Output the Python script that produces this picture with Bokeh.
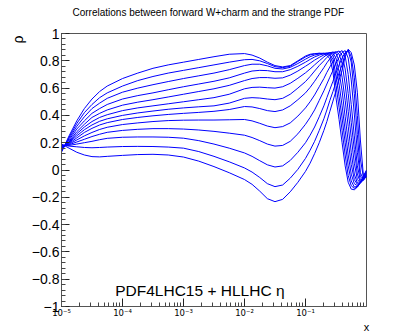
from bokeh.plotting import figure
from bokeh.models import FixedTicker, Label, Range1d, Title
from bokeh.embed import file_html
from bokeh.resources import INLINE

# x values (Bjorken x, log scale)
x_values = [1e-5, 1.33e-5, 1.78e-5, 2.37e-5, 3.16e-5, 4.22e-5, 5.62e-5, 1e-4, 1.78e-4, 3.16e-4,
            5.62e-4, 1e-3, 1.78e-3, 3.16e-3, 5.62e-3, 1e-2, 1.33e-2, 1.78e-2, 2.37e-2, 3.16e-2,
            4.22e-2, 5.62e-2, 7.5e-2, 0.1, 0.119, 0.141, 0.168, 0.2, 0.224, 0.251,
            0.282, 0.316, 0.355, 0.398, 0.447, 0.501, 0.562, 0.631, 0.708, 0.794,
            0.891, 1.0]

# correlation coefficients, one curve per eta bin
rho_bin1 = [0.13, 0.25, 0.36, 0.45, 0.52, 0.575, 0.615, 0.67, 0.71, 0.745,
            0.77, 0.79, 0.81, 0.83, 0.848, 0.853, 0.842, 0.82, 0.79, 0.765,
            0.755, 0.765, 0.8, 0.835, 0.848, 0.853, 0.855, 0.85, 0.84, 0.815,
            0.72, 0.53, 0.37, 0.2, 0.03, -0.09, -0.14, -0.145, -0.125, -0.09,
            -0.045, 0.0]
rho_bin2 = [0.135, 0.24, 0.34, 0.42, 0.48, 0.53, 0.565, 0.615, 0.655, 0.685,
            0.71, 0.73, 0.75, 0.77, 0.79, 0.808, 0.81, 0.8, 0.78, 0.757,
            0.75, 0.76, 0.795, 0.828, 0.843, 0.85, 0.855, 0.855, 0.85, 0.838,
            0.78, 0.62, 0.46, 0.29, 0.11, -0.04, -0.115, -0.135, -0.125, -0.09,
            -0.045, -0.005]
rho_bin3 = [0.14, 0.23, 0.32, 0.39, 0.45, 0.49, 0.525, 0.57, 0.60, 0.625,
            0.648, 0.67, 0.69, 0.71, 0.735, 0.765, 0.775, 0.775, 0.763, 0.745,
            0.74, 0.752, 0.78, 0.812, 0.83, 0.842, 0.85, 0.855, 0.855, 0.848,
            0.81, 0.70, 0.54, 0.38, 0.2, 0.03, -0.08, -0.125, -0.12, -0.095,
            -0.05, -0.01]
rho_bin4 = [0.145, 0.22, 0.30, 0.36, 0.415, 0.45, 0.48, 0.52, 0.545, 0.565,
            0.588, 0.61, 0.63, 0.65, 0.675, 0.71, 0.725, 0.73, 0.728, 0.72,
            0.72, 0.735, 0.76, 0.79, 0.81, 0.828, 0.842, 0.852, 0.857, 0.858,
            0.84, 0.77, 0.63, 0.47, 0.29, 0.11, -0.03, -0.1, -0.115, -0.095,
            -0.055, -0.015]
rho_bin5 = [0.15, 0.21, 0.28, 0.335, 0.385, 0.415, 0.44, 0.475, 0.497, 0.515,
            0.535, 0.555, 0.575, 0.595, 0.62, 0.655, 0.67, 0.677, 0.677, 0.672,
            0.675, 0.695, 0.725, 0.76, 0.782, 0.805, 0.825, 0.843, 0.853, 0.86,
            0.857, 0.82, 0.72, 0.58, 0.39, 0.21, 0.04, -0.07, -0.105, -0.095,
            -0.06, -0.02]
rho_bin6 = [0.155, 0.205, 0.265, 0.315, 0.355, 0.385, 0.405, 0.435, 0.455, 0.47,
            0.485, 0.50, 0.515, 0.53, 0.555, 0.595, 0.605, 0.607, 0.603, 0.60,
            0.61, 0.635, 0.672, 0.712, 0.74, 0.77, 0.80, 0.828, 0.845, 0.858,
            0.865, 0.855, 0.80, 0.68, 0.51, 0.32, 0.13, -0.03, -0.095, -0.095,
            -0.065, -0.025]
rho_bin7 = [0.16, 0.2, 0.25, 0.295, 0.33, 0.357, 0.375, 0.40, 0.418, 0.432,
            0.445, 0.455, 0.463, 0.47, 0.49, 0.525, 0.53, 0.527, 0.52, 0.515,
            0.525, 0.555, 0.6, 0.648, 0.685, 0.725, 0.765, 0.80, 0.825, 0.845,
            0.86, 0.867, 0.85, 0.78, 0.63, 0.43, 0.24, 0.05, -0.07, -0.095,
            -0.07, -0.03]
rho_bin8 = [0.165, 0.195, 0.235, 0.275, 0.305, 0.33, 0.347, 0.37, 0.385, 0.397,
            0.407, 0.415, 0.422, 0.43, 0.443, 0.465, 0.462, 0.45, 0.435, 0.428,
            0.44, 0.47, 0.515, 0.565, 0.605, 0.65, 0.70, 0.75, 0.785, 0.815,
            0.842, 0.862, 0.872, 0.84, 0.74, 0.56, 0.35, 0.15, -0.03, -0.09,
            -0.075, -0.035]
rho_bin9 = [0.17, 0.19, 0.22, 0.25, 0.275, 0.297, 0.313, 0.333, 0.345, 0.355,
            0.362, 0.365, 0.366, 0.366, 0.368, 0.37, 0.36, 0.342, 0.322, 0.31,
            0.318, 0.345, 0.395, 0.455, 0.5, 0.55, 0.61, 0.67, 0.715, 0.755,
            0.795, 0.83, 0.86, 0.875, 0.835, 0.70, 0.48, 0.25, 0.03, -0.075,
            -0.075, -0.04]
rho_bin10 = [0.175, 0.185, 0.205, 0.225, 0.245, 0.262, 0.276, 0.29, 0.298, 0.303,
             0.303, 0.3, 0.293, 0.283, 0.27, 0.255, 0.238, 0.215, 0.19, 0.175,
             0.18, 0.21, 0.265, 0.335, 0.385, 0.44, 0.51, 0.58, 0.63, 0.68,
             0.73, 0.78, 0.825, 0.86, 0.875, 0.82, 0.66, 0.41, 0.13, -0.05,
             -0.07, -0.045]
rho_bin11 = [0.18, 0.18, 0.19, 0.2, 0.21, 0.222, 0.232, 0.24, 0.242, 0.242,
             0.24, 0.233, 0.215, 0.19, 0.16, 0.125, 0.1, 0.068, 0.038, 0.022,
             0.03, 0.07, 0.13, 0.2, 0.255, 0.315, 0.39, 0.47, 0.53, 0.59,
             0.65, 0.71, 0.77, 0.82, 0.86, 0.875, 0.79, 0.56, 0.26, -0.02,
             -0.07, -0.05]
rho_bin12 = [0.185, 0.175, 0.17, 0.165, 0.163, 0.165, 0.168, 0.172, 0.173, 0.172,
             0.168, 0.16, 0.135, 0.1, 0.06, 0.015, -0.015, -0.055, -0.1, -0.122,
             -0.11, -0.06, 0.005, 0.085, 0.145, 0.21, 0.29, 0.375, 0.44, 0.51,
             0.575, 0.645, 0.71, 0.77, 0.85, 0.88, 0.83, 0.68, 0.40, 0.08,
             -0.055, -0.05]
rho_bin13 = [0.19, 0.16, 0.13, 0.11, 0.098, 0.096, 0.1, 0.107, 0.113, 0.115,
             0.11, 0.095, 0.065, 0.025, -0.02, -0.07, -0.105, -0.155, -0.21, -0.232,
             -0.215, -0.16, -0.09, -0.01, 0.05, 0.12, 0.2, 0.29, 0.355, 0.43,
             0.505, 0.58, 0.66, 0.73, 0.83, 0.885, 0.86, 0.77, 0.57, 0.22,
             -0.045, -0.05]

curves = [rho_bin1, rho_bin2, rho_bin3, rho_bin4, rho_bin5, rho_bin6, rho_bin7,
          rho_bin8, rho_bin9, rho_bin10, rho_bin11, rho_bin12, rho_bin13]

y_ticks = [-1, -0.8, -0.6, -0.4, -0.2, 0, 0.2, 0.4, 0.6, 0.8, 1]
y_tick_labels = ["\u22121", "\u22120.8", "\u22120.6", "\u22120.4", "\u22120.2", "0",
                 "0.2", "0.4", "0.6", "0.8", "1"]
x_decades = [1e-5, 1e-4, 1e-3, 1e-2, 1e-1]
x_tick_labels = ["10\u207b\u2075", "10\u207b\u2074", "10\u207b\u00b3", "10\u207b\u00b2", "10\u207b\u00b9"]

title_text = "Correlations between forward W+charm and the strange PDF"
note_text = "PDF4LHC15 + HLLHC \u03b7"
x_title = "x"
y_title = "\u03c1"

FONT = "Liberation Sans"
AXIS_COLOR = "#555555"

p = figure(width=407, height=333, x_axis_type="log",
           x_range=Range1d(1e-5, 1.0), y_range=Range1d(-1.0, 1.0),
           output_backend="svg", toolbar_location=None,
           min_border_left=61, min_border_right=41, min_border_top=33, min_border_bottom=27)
p.frame_width = 305
p.frame_height = 273
p.xgrid.visible = False
p.ygrid.visible = False
p.outline_line_color = AXIS_COLOR
p.outline_line_width = 1
p.background_fill_color = "white"
p.border_fill_color = "white"

# title (a second, empty line lifts the visible line towards the top edge)
p.title.text = title_text + "\n "
p.title.align = "left"
p.title.offset = 11
p.title.standoff = 5
p.title.vertical_align = "top"
p.title.text_font = FONT
p.title.text_font_size = "10px"
p.title.text_font_style = "normal"
p.title.text_color = "black"

for rho in curves:
    p.line(x_values, rho, line_color="#0000ff", line_width=1)

# y axis
y_minor = [round(-1 + 0.04 * i, 2) for i in range(51)]
p.yaxis.ticker = FixedTicker(ticks=y_ticks, minor_ticks=y_minor)
p.yaxis.major_label_overrides = {t: s for t, s in zip(y_ticks, y_tick_labels)}
p.yaxis.major_tick_in = 8
p.yaxis.major_tick_out = 0
p.yaxis.minor_tick_in = 4
p.yaxis.minor_tick_out = 0
p.yaxis.axis_line_color = AXIS_COLOR
p.yaxis.major_tick_line_color = "#222222"
p.yaxis.minor_tick_line_color = "#444444"
p.yaxis.major_label_text_font = FONT
p.yaxis.major_label_text_font_size = "14px"
p.yaxis.major_label_text_color = "black"
p.yaxis.major_label_standoff = 2
p.yaxis.axis_label_standoff = 0

# x axis
x_minor = [k * d for d in x_decades for k in range(2, 10)]
p.xaxis.ticker = FixedTicker(ticks=x_decades, minor_ticks=x_minor)
p.xaxis.major_label_overrides = {t: s for t, s in zip(x_decades, x_tick_labels)}
p.xaxis.major_tick_in = 8
p.xaxis.major_tick_out = 0
p.xaxis.minor_tick_in = 4
p.xaxis.minor_tick_out = 0
p.xaxis.axis_line_color = AXIS_COLOR
p.xaxis.major_tick_line_color = "#222222"
p.xaxis.minor_tick_line_color = "#444444"
p.xaxis.major_label_text_font = "DejaVu Sans"
p.xaxis.major_label_text_font_size = "8.5px"
p.xaxis.major_label_text_color = "black"
p.xaxis.major_label_text_line_height = 0.9
p.xaxis.major_label_standoff = 1

# axis titles (ROOT style: at the end of each axis)
p.add_layout(Title(text=y_title, align="right", standoff=6, offset=2,
                   text_font=FONT, text_font_size="14px", text_font_style="normal",
                   text_color="black"), "left")

try:
    p.xaxis.axis_label_align = "end"
    x_title_on_axis = True
except Exception:
    x_title_on_axis = False

if x_title_on_axis:
    p.xaxis.axis_label = x_title
    p.xaxis.axis_label_standoff = 0
    p.xaxis.axis_label_text_font = FONT
    p.xaxis.axis_label_text_font_size = "11px"
    p.xaxis.axis_label_text_font_style = "normal"
    p.xaxis.axis_label_text_color = "black"
    p.xaxis.axis_label_text_line_height = 0.9
else:
    p.xaxis.axis_label_standoff = 0
    p.add_layout(Title(text=x_title, align="right", standoff=0, offset=0,
                       text_font=FONT, text_font_size="11px", text_font_style="normal",
                       text_color="black"), "below")

p.add_layout(Label(x=7.6e-5, y=-0.88, text=note_text,
                   text_align="left", text_baseline="alphabetic",
                   text_font=FONT, text_font_size="15.5px", text_color="black"))

open("out.html", "w").write(file_html(p, INLINE))
